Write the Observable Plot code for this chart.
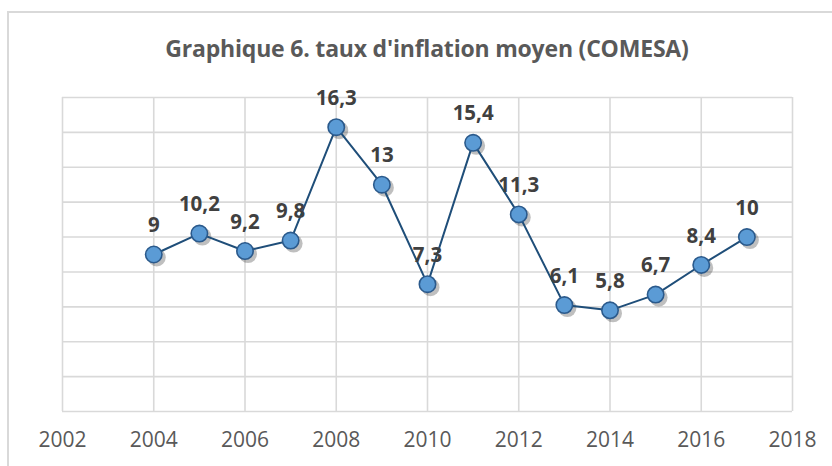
<!DOCTYPE html>
<html>
<head>
<meta charset="utf-8">
<script src="https://cdn.jsdelivr.net/npm/d3@7"></script>
<script src="https://cdn.jsdelivr.net/npm/@observablehq/plot@0.6"></script>
<style>
  html, body { margin: 0; padding: 0; background: #fff; }
  #wrap { position: relative; width: 832px; height: 466px; overflow: hidden; font-family: "Open Sans", Lato, sans-serif; }
  #frame { position: absolute; left: 7px; top: 11px; width: 840px; height: 480px; border-left: 2px solid #D9D9D9; border-top: 2px solid #D9D9D9; box-sizing: border-box; }
  #title { position: absolute; left: 0; width: 854px; top: 34px; text-align: center; font-weight: bold; font-size: 23px; color: #595959; font-family: "Open Sans", Lato, sans-serif; line-height: 28px; letter-spacing: -0.2px; }
  #chart { position: absolute; left: 0; top: 0; }
</style>
</head>
<body>
<div id="wrap">
  <div id="frame"></div>
  <div id="title">Graphique 6. taux d'inflation moyen (COMESA)</div>
  <div id="chart"></div>
</div>
<script>
const years = [2004, 2005, 2006, 2007, 2008, 2009, 2010, 2011, 2012, 2013, 2014, 2015, 2016, 2017];
const values = [9, 10.2, 9.2, 9.8, 16.3, 13, 7.3, 15.4, 11.3, 6.1, 5.8, 6.7, 8.4, 10];
const valueLabels = ["9", "10,2", "9,2", "9,8", "16,3", "13", "7,3", "15,4", "11,3", "6,1", "5,8", "6,7", "8,4", "10"];
const xTicks = [2002, 2004, 2006, 2008, 2010, 2012, 2014, 2016, 2018];
const yTicks = [0, 2, 4, 6, 8, 10, 12, 14, 16, 18];

const data = years.map((year, i) => ({year, value: values[i], label: valueLabels[i]}));

const chart = Plot.plot({
  width: 832,
  height: 466,
  marginLeft: 62,
  marginRight: 40,
  marginTop: 97,
  marginBottom: 55,
  style: {background: "transparent", fontFamily: "'Open Sans', Lato, sans-serif", overflow: "visible"},
  x: {domain: [2002, 2018], axis: null},
  y: {domain: [0, 18], axis: null},
  marks: [
    Plot.gridX(xTicks, {stroke: "#D9D9D9", strokeOpacity: 1, strokeWidth: 1.6}),
    Plot.gridY(yTicks, {stroke: "#D9D9D9", strokeOpacity: 1, strokeWidth: 1.6}),
    Plot.axisX(xTicks, {tickSize: 0, tickPadding: 21, tickFormat: d => String(d), fontSize: 21, fill: "#595959", label: null}),
    // soft shadow
    Plot.line(data, {x: "year", y: "value", dx: 3, dy: 3, stroke: "#000", strokeOpacity: 0.18, strokeWidth: 3.5, ariaLabel: "shadow-line"}),
    Plot.dot(data, {x: "year", y: "value", dx: 3, dy: 3, r: 9, fill: "#000", fillOpacity: 0.25, stroke: "none", ariaLabel: "shadow-dot"}),
    Plot.line(data, {x: "year", y: "value", stroke: "#1F4E79", strokeWidth: 2}),
    Plot.dot(data, {x: "year", y: "value", r: 8.2, fill: "#5B9BD5", stroke: "#2B5A8C", strokeWidth: 1.6}),
    Plot.text(data, {x: "year", y: "value", text: "label", dy: -29, lineAnchor: "middle", fontSize: 20.5, fontWeight: "bold", fill: "#404040"})
  ]
});

// blur the shadow marks
const ns = "http://www.w3.org/2000/svg";
const defs = document.createElementNS(ns, "defs");
defs.innerHTML = '<filter id="blur" x="-50%" y="-50%" width="200%" height="200%"><feGaussianBlur stdDeviation="2"/></filter>';
chart.insertBefore(defs, chart.firstChild);
chart.querySelectorAll("g[aria-label='shadow-line'], g[aria-label='shadow-dot']").forEach(g => g.setAttribute("filter", "url(#blur)"));

document.getElementById("chart").appendChild(chart);
</script>
</body>
</html>
